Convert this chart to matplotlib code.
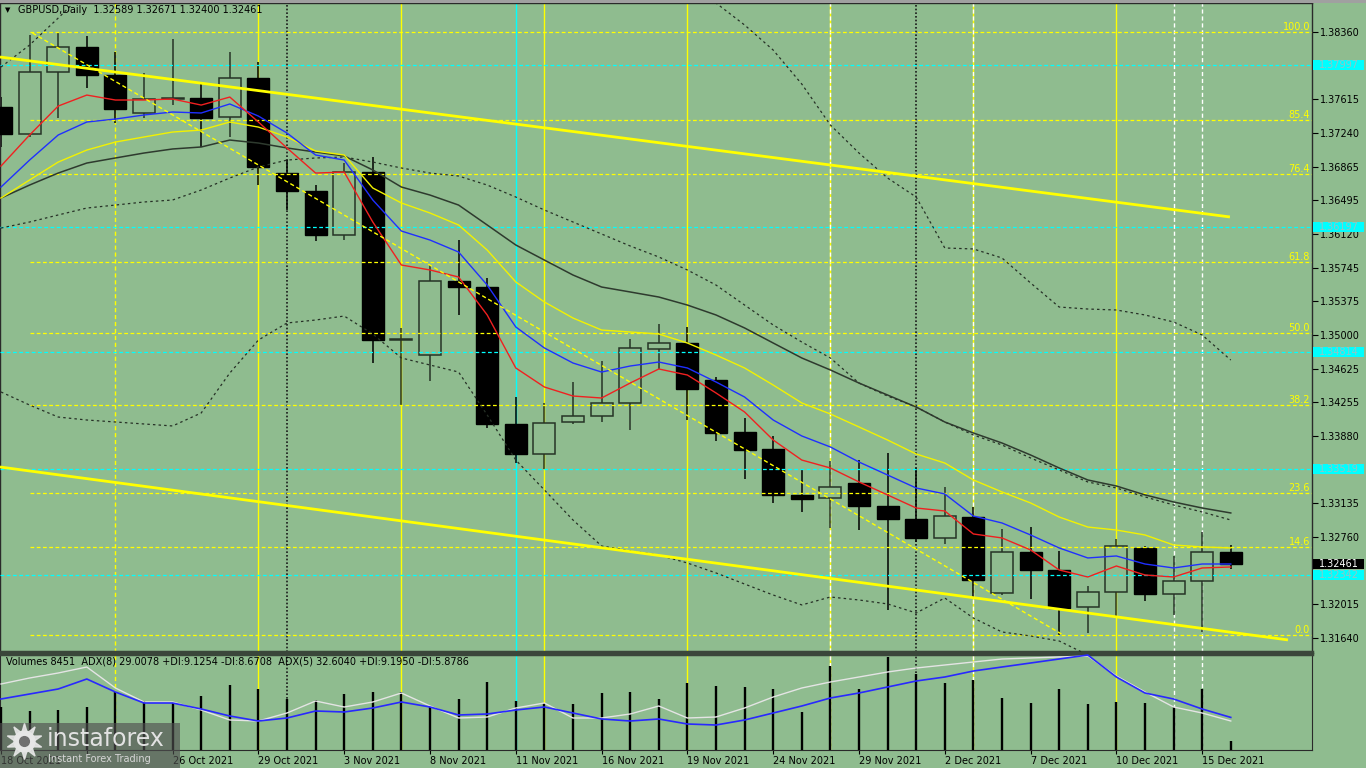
import matplotlib
matplotlib.use("Agg")
import matplotlib.pyplot as plt
import matplotlib.transforms as mtransforms
from matplotlib.patches import Rectangle
from matplotlib.lines import Line2D
import numpy as np

plt.rcParams["font.family"] = ["DejaVu Sans"]

# ---- data (GBPUSD daily, 18 Oct - 16 Dec 2021) ----
opens = [1.37528, 1.37229, 1.37916, 1.38194, 1.37883, 1.37462, 1.37617, 1.37628, 1.37417, 1.37850,
         1.36796, 1.36597, 1.36109, 1.36808, 1.34945, 1.34778, 1.35599, 1.35532, 1.34013, 1.33680,
         1.34035, 1.34102, 1.34246, 1.34845, 1.34911, 1.34501, 1.33924, 1.33736, 1.33226, 1.33193,
         1.33359, 1.33104, 1.32960, 1.32749, 1.32982, 1.32139, 1.32594, 1.32394, 1.31984, 1.32150,
         1.32638, 1.32128, 1.32272, 1.32589]
highs = [1.37639, 1.38327, 1.38349, 1.38316, 1.38138, 1.37905, 1.38282, 1.37794, 1.38138, 1.38027,
         1.36941, 1.36663, 1.36907, 1.36974, 1.35078, 1.35776, 1.36053, 1.35632, 1.34313, 1.34246,
         1.34479, 1.34712, 1.34956, 1.35122, 1.35089, 1.34534, 1.34080, 1.33880, 1.33514, 1.33603,
         1.33614, 1.33692, 1.33525, 1.33315, 1.33093, 1.32849, 1.32871, 1.32605, 1.32217, 1.32738,
         1.32660, 1.32549, 1.32815, 1.32671]
lows = [1.37085, 1.37196, 1.37406, 1.37739, 1.37351, 1.37406, 1.37551, 1.37085, 1.37196, 1.36663,
        1.36386, 1.36042, 1.36053, 1.34690, 1.34224, 1.34490, 1.35222, 1.33969, 1.33581, 1.33514,
        1.34013, 1.34035, 1.33947, 1.34623, 1.34058, 1.33825, 1.33404, 1.33138, 1.33038, 1.32860,
        1.32838, 1.31951, 1.32700, 1.32683, 1.32095, 1.32120, 1.32073, 1.31673, 1.31695, 1.31862,
        1.32051, 1.31895, 1.31706, 1.32400]
closes = [1.37229, 1.37916, 1.38194, 1.37883, 1.37506, 1.37617, 1.37628, 1.37406, 1.37850, 1.36863,
          1.36597, 1.36109, 1.36808, 1.34945, 1.34960, 1.35599, 1.35532, 1.34013, 1.33680, 1.34024,
          1.34102, 1.34246, 1.34856, 1.34911, 1.34401, 1.33913, 1.33725, 1.33226, 1.33182, 1.33314,
          1.33104, 1.32960, 1.32749, 1.32993, 1.32283, 1.32594, 1.32394, 1.31973, 1.32150, 1.32660,
          1.32128, 1.32272, 1.32594, 1.32461]

ma_red = [1.36874, 1.37218, 1.37539, 1.37661, 1.37606, 1.37606, 1.37617, 1.37550, 1.37639, 1.37362,
          1.37074, 1.36796, 1.36807, 1.36253, 1.35776, 1.35721, 1.35643, 1.35222, 1.34634, 1.34423,
          1.34323, 1.34301, 1.34467, 1.34623, 1.34556, 1.34357, 1.34146, 1.33835, 1.33613, 1.33525,
          1.33370, 1.33226, 1.33081, 1.33048, 1.32793, 1.32749, 1.32616, 1.32394, 1.32316, 1.32438,
          1.32338, 1.32316, 1.32416, 1.32427]
ma_blue = [1.36641, 1.36940, 1.37218, 1.37362, 1.37395, 1.37440, 1.37473, 1.37462, 1.37562, 1.37428,
           1.37240, 1.36996, 1.36940, 1.36497, 1.36153, 1.36053, 1.35920, 1.35554, 1.35089, 1.34856,
           1.34689, 1.34589, 1.34656, 1.34700, 1.34634, 1.34479, 1.34312, 1.34057, 1.33880, 1.33758,
           1.33591, 1.33447, 1.33303, 1.33237, 1.32992, 1.32915, 1.32782, 1.32638, 1.32527, 1.32549,
           1.32460, 1.32416, 1.32460, 1.32460]
ma_yellow = [1.36519, 1.36719, 1.36918, 1.37051, 1.37140, 1.37196, 1.37251, 1.37273, 1.37362, 1.37306,
             1.37196, 1.37040, 1.36996, 1.36630, 1.36464, 1.36353, 1.36220, 1.35942, 1.35588, 1.35366,
             1.35188, 1.35055, 1.35033, 1.35011, 1.34911, 1.34778, 1.34634, 1.34445, 1.34246, 1.34124,
             1.33980, 1.33835, 1.33680, 1.33580, 1.33392, 1.33259, 1.33137, 1.32981, 1.32870, 1.32837,
             1.32782, 1.32671, 1.32649, 1.32638]
ma_slow = [1.36519, 1.36663, 1.36796, 1.36907, 1.36963, 1.37018, 1.37063, 1.37085, 1.37162, 1.37129,
           1.37074, 1.37029, 1.36985, 1.36830, 1.36641, 1.36552, 1.36441, 1.36220, 1.35998, 1.35831,
           1.35665, 1.35532, 1.35477, 1.35421, 1.35332, 1.35222, 1.35078, 1.34911, 1.34745, 1.34612,
           1.34467, 1.34334, 1.34201, 1.34035, 1.33913, 1.33802, 1.33669, 1.33525, 1.33392, 1.33325,
           1.33226, 1.33148, 1.33081, 1.33026]
bb_mid = [1.36186, 1.36253, 1.36331, 1.36408, 1.36441, 1.36475, 1.36497, 1.36608, 1.36741, 1.36863,
          1.36940, 1.36963, 1.36974, 1.36918, 1.36852, 1.36796, 1.36763, 1.36663, 1.36530, 1.36386,
          1.36253, 1.36120, 1.35987, 1.35865, 1.35721, 1.35554, 1.35332, 1.35111, 1.34922, 1.34745,
          1.34467, 1.34323, 1.34201, 1.34035, 1.33891, 1.33780, 1.33636, 1.33503, 1.33370, 1.33303,
          1.33204, 1.33115, 1.33037, 1.32948]
nan = float("nan")
bb_up = [1.37972, 1.38216, 1.38515, 1.38826] + [nan] * 20 + \
        [1.38937, 1.38682, 1.38438, 1.38160, 1.37783, 1.37329, 1.37018, 1.36741, 1.36530, 1.35965,
         1.35954, 1.35854, 1.35577, 1.35310, 1.35288, 1.35277, 1.35222, 1.35144, 1.35000, 1.34722]
bb_low = [1.34368, 1.34223, 1.34090, 1.34057, 1.34035, 1.34013, 1.33991, 1.34135, 1.34578, 1.34944,
          1.35133, 1.35166, 1.35210, 1.35011, 1.34745, 1.34667, 1.34589, 1.34113, 1.33613, 1.33281,
          1.32948, 1.32660, 1.32604, 1.32560, 1.32471, 1.32361, 1.32238, 1.32116, 1.32006, 1.32094,
          1.32061, 1.32017, 1.31917, 1.32083, 1.31861, 1.31706, 1.31662, 1.31606, 1.31451, 1.31229,
          nan, nan, nan, nan]

volumes = [42460, 38510, 39500, 42460, 57270, 48380, 46410, 53320, 64180, 60230,
           50360, 49370, 55290, 57270, 57270, 42460, 50360, 67140, 48380, 46410,
           45420, 56280, 57270, 50360, 66160, 63190, 62210, 60230, 37520, 82940,
           60230, 91830, 75040, 66160, 69120, 51340, 46410, 60230, 45420, 47400,
           46410, 42460, 60230, 8451]
adx5 = [51, 56, 61, 71, 58, 47, 47, 41, 34, 29, 32, 39, 38, 42, 48, 43, 35, 36, 40, 43, 37, 31,
        29, 31, 26, 25, 30, 37, 44, 52, 57, 63, 69, 73, 79, 83, 87, 91, 95, 73, 57, 51, 41, 32.6]
adx8 = [66, 72, 77, 83, 62, 48, 48, 40, 30, 29, 37, 49, 43, 48, 57, 44, 32, 33, 42, 47, 32, 32,
        36, 44, 32, 33, 42, 53, 62, 68, 73, 78, 82, 85, 88, 91, 92, 93, 94, 74, 58, 43, 37, 29.0]

date_bars = list(range(0, 44, 3))
date_labels = ["18 Oct 2021", "", "26 Oct 2021", "29 Oct 2021", "3 Nov 2021",
               "8 Nov 2021", "11 Nov 2021", "16 Nov 2021", "19 Nov 2021", "24 Nov 2021",
               "29 Nov 2021", "2 Dec 2021", "7 Dec 2021", "10 Dec 2021", "15 Dec 2021"]

price_ticks = [1.38360, 1.37990, 1.37615, 1.37240, 1.36865, 1.36495, 1.36120, 1.35745, 1.35375,
               1.35000, 1.34625, 1.34255, 1.33880, 1.33510, 1.33135, 1.32760, 1.32385, 1.32015,
               1.31640]
hidden_ticks = [1.37990, 1.33510, 1.32385]   # covered by the value tags
fib_high, fib_low = 1.38360, 1.31673
fib_levels = [0.0, 14.6, 23.6, 38.2, 50.0, 61.8, 76.4, 85.4, 100.0]
cyan_levels = [1.37997, 1.36197, 1.34814, 1.33519, 1.32342]
last_price = 1.32461

# trend lines: (bar, price) end points
channel_top = ([-0.035, 42.97], [1.38083, 1.36309])
channel_bottom = ([-0.035, 45.0], [1.33536, 1.31618])
diag_line = ([1.1, 37.1], [1.38349, 1.31680])

# vertical markers: bar, colour, style
vlines_yellow = [9, 14, 19, 24, 29, 34, 39]
vlines_yellow_dash = [4]
vlines_white_dash = [29, 34, 41, 42]
vlines_black_dot = [10, 32]
vlines_cyan = [18]

# ---- layout ----
W, H = 1366, 768
BG = "#8FBC8F"
fig = plt.figure(figsize=(W / 100, H / 100), dpi=100, facecolor=BG)
ax = fig.add_axes([0, (H - 652) / H, 1312 / W, 649 / H], facecolor=BG)
vax = fig.add_axes([0, (H - 750) / H, 1312 / W, 96 / H], facecolor=BG, sharex=ax)

x = np.arange(len(opens))
o, h, l, c = map(np.array, (opens, highs, lows, closes))
xmin, xmax = -0.035, 45.84
ax.set_xlim(xmin, xmax)
ax.set_ylim(1.31484, 1.38682)

# vertical markers in both panels
for a in (ax, vax):
    for b in vlines_yellow:
        a.axvline(b, color="#ffff00", lw=1.0, zorder=1)
    for b in vlines_yellow_dash:
        a.axvline(b, color="#ffff00", lw=1.0, dashes=(3, 2), zorder=1)
    for b in vlines_white_dash:
        a.axvline(b, color="white", lw=1.0, dashes=(3, 2), zorder=1)
    for b in vlines_black_dot:
        a.axvline(b, color="#1a1a1a", lw=1.2, dashes=(1, 1.2), zorder=1)
    for b in vlines_cyan:
        a.axvline(b, color="#00ffff", lw=1.0, zorder=1)

# candles
up = c >= o
edge_up = "#263326"
ax.vlines(x[up], l[up], h[up], color=edge_up, lw=1.1, zorder=2)
ax.vlines(x[~up], l[~up], h[~up], color="black", lw=1.1, zorder=2)
bottom = np.minimum(o, c)
height = np.maximum(np.abs(c - o), 0.00008)
ax.bar(x[up], height[up], bottom=bottom[up], width=0.77, facecolor=BG,
       edgecolor=edge_up, lw=1.1, zorder=3)
ax.bar(x[~up], height[~up], bottom=bottom[~up], width=0.77, facecolor="black",
       edgecolor="black", lw=1.0, zorder=3)

# horizontal levels
fib_tf = mtransforms.blended_transform_factory(ax.transAxes, ax.transData)
for lvl in fib_levels:
    p = fib_low + (fib_high - fib_low) * lvl / 100
    ax.plot([1.0, xmax], [p, p], color="#ffff00", lw=0.9, dashes=(3, 2), zorder=4)
    ax.text(0.9985, p, f"{lvl:.1f}", transform=fib_tf,
            ha="right", va="bottom", fontsize=7, color="#ffff00", zorder=6)
for p in cyan_levels:
    ax.axhline(p, color="#00ffff", lw=0.9, dashes=(3, 2), zorder=4)

# indicators
ax.plot(x, bb_up, color="#263026", lw=0.9, dashes=(2, 2.5), zorder=5)
ax.plot(x, bb_mid, color="#263026", lw=0.9, dashes=(2, 2.5), zorder=5)
ax.plot(x, bb_low, color="#263026", lw=0.9, dashes=(2, 2.5), zorder=5)
ax.plot(x, ma_slow, color="#2e3a2e", lw=1.1, zorder=5)
ax.plot(x, ma_yellow, color="#f2f200", lw=1.0, zorder=5)
ax.plot(x, ma_blue, color="#1f2fff", lw=1.0, zorder=5)
ax.plot(x, ma_red, color="#f02020", lw=1.0, zorder=5)
ax.plot(*diag_line, color="#ffff00", lw=1.0, dashes=(3, 2), zorder=5)
ax.plot(*channel_top, color="#ffff00", lw=2.0, zorder=6, solid_capstyle="butt")
ax.plot(*channel_bottom, color="#ffff00", lw=2.0, zorder=6, solid_capstyle="butt")

# price axis on the right
ax.yaxis.tick_right()
ax.set_yticks(price_ticks)
ax.set_yticklabels(["" if p in hidden_ticks else f"{p:.5f}" for p in price_ticks])
ax.tick_params(axis="y", length=4, width=0.8, pad=2, labelsize=7, colors="black")
ax.tick_params(axis="x", bottom=False, labelbottom=False)
for s in ("top", "left", "right"):
    ax.spines[s].set_color("#2a2a2a")
    ax.spines[s].set_linewidth(1.0)
ax.spines["bottom"].set_color("#3a463a")
ax.spines["bottom"].set_linewidth(2.5)

# right-side value tags
tag_tf = mtransforms.blended_transform_factory(fig.transFigure, ax.transData)
half = 5 / 9018
for p in cyan_levels:
    ax.add_patch(Rectangle((1313 / W, p - half), 51 / W, 2 * half, transform=tag_tf,
                           facecolor="#00ffff", edgecolor="none", clip_on=False, zorder=10))
    ax.text(1319 / W, p, f"{p:.5f}", transform=tag_tf, fontsize=7, color="#94c4c4",
            va="center", ha="left", zorder=11, clip_on=False)
ax.add_patch(Rectangle((1313 / W, last_price - half), 51 / W, 2 * half, transform=tag_tf,
                       facecolor="black", edgecolor="none", clip_on=False, zorder=10))
ax.text(1319 / W, last_price, f"{last_price:.5f}", transform=tag_tf, fontsize=7, color="white",
        va="center", ha="left", zorder=11, clip_on=False)

# volume + ADX panel
vax.vlines(x, 0, volumes, color="black", lw=1.7, zorder=3)
vax.set_ylim(0, 94790)
vax.yaxis.tick_right()
vax.set_yticks([0, 91830])
vax.set_yticklabels(["0", "91830"])
vax.tick_params(axis="y", length=4, width=0.8, pad=2, labelsize=7, colors="black")
vax.set_xticks(date_bars)
vax.set_xticklabels(date_labels, ha="left")
vax.tick_params(axis="x", length=3, width=0.8, pad=1, labelsize=7, colors="black")
for s in ("bottom", "left", "right"):
    vax.spines[s].set_color("#2a2a2a")
vax.spines["top"].set_color("#3a463a")
vax.spines["top"].set_linewidth(2.5)
vax2 = vax.twinx()
vax2.set_ylim(0, 96)
vax2.plot(x, adx8, color="#e4e4e4", lw=1.0, zorder=4)
vax2.plot(x, adx5, color="#2828ff", lw=1.2, zorder=5)
vax2.set_yticks([])
for s in vax2.spines.values():
    s.set_visible(False)
ax.set_xlim(xmin, xmax)

# header texts
fig.patches.append(Rectangle((0, 1 - 3 / H), 1, 3 / H, transform=fig.transFigure,
                             facecolor="#a0a0a0", edgecolor="none", zorder=20))
fig.text(5 / W, 1 - 10 / H, "\u25bc", fontsize=5, va="center", ha="left", color="black")
fig.text(18 / W, 1 - 10 / H, "GBPUSD,Daily  1.32589 1.32671 1.32400 1.32461",
         fontsize=7, va="center", ha="left", color="black")
fig.text(6 / W, 1 - 662 / H,
         "Volumes 8451  ADX(8) 29.0078 +DI:9.1254 -DI:8.6708  ADX(5) 32.6040 +DI:9.1950 -DI:5.8786",
         fontsize=7, va="center", ha="left", color="black")

# watermark logo
fig.patches.append(Rectangle((0, 0), 180 / W, 45 / H, transform=fig.transFigure,
                             facecolor="#505050", alpha=0.65, edgecolor="none", zorder=20))
fig.add_artist(Line2D([24 / W], [1 - 741 / H], marker=(10, 1, 0), markersize=26,
                      color="#e6e6e6", alpha=0.9, zorder=21))
fig.add_artist(Line2D([24 / W], [1 - 741 / H], marker="o", markersize=15,
                      color="#e6e6e6", zorder=22))
fig.add_artist(Line2D([24 / W], [1 - 741 / H], marker="o", markersize=7,
                      color="#707070", zorder=23))
fig.text(47 / W, 1 - 739 / H, "instaforex", fontsize=17, color="#e2e2e2",
         va="center", ha="left", zorder=24)
fig.text(48 / W, 1 - 759 / H, "Instant Forex Trading", fontsize=7, color="#d6d6d6",
         va="center", ha="left", zorder=24)

fig.savefig("out.png", dpi=100, facecolor=BG)
